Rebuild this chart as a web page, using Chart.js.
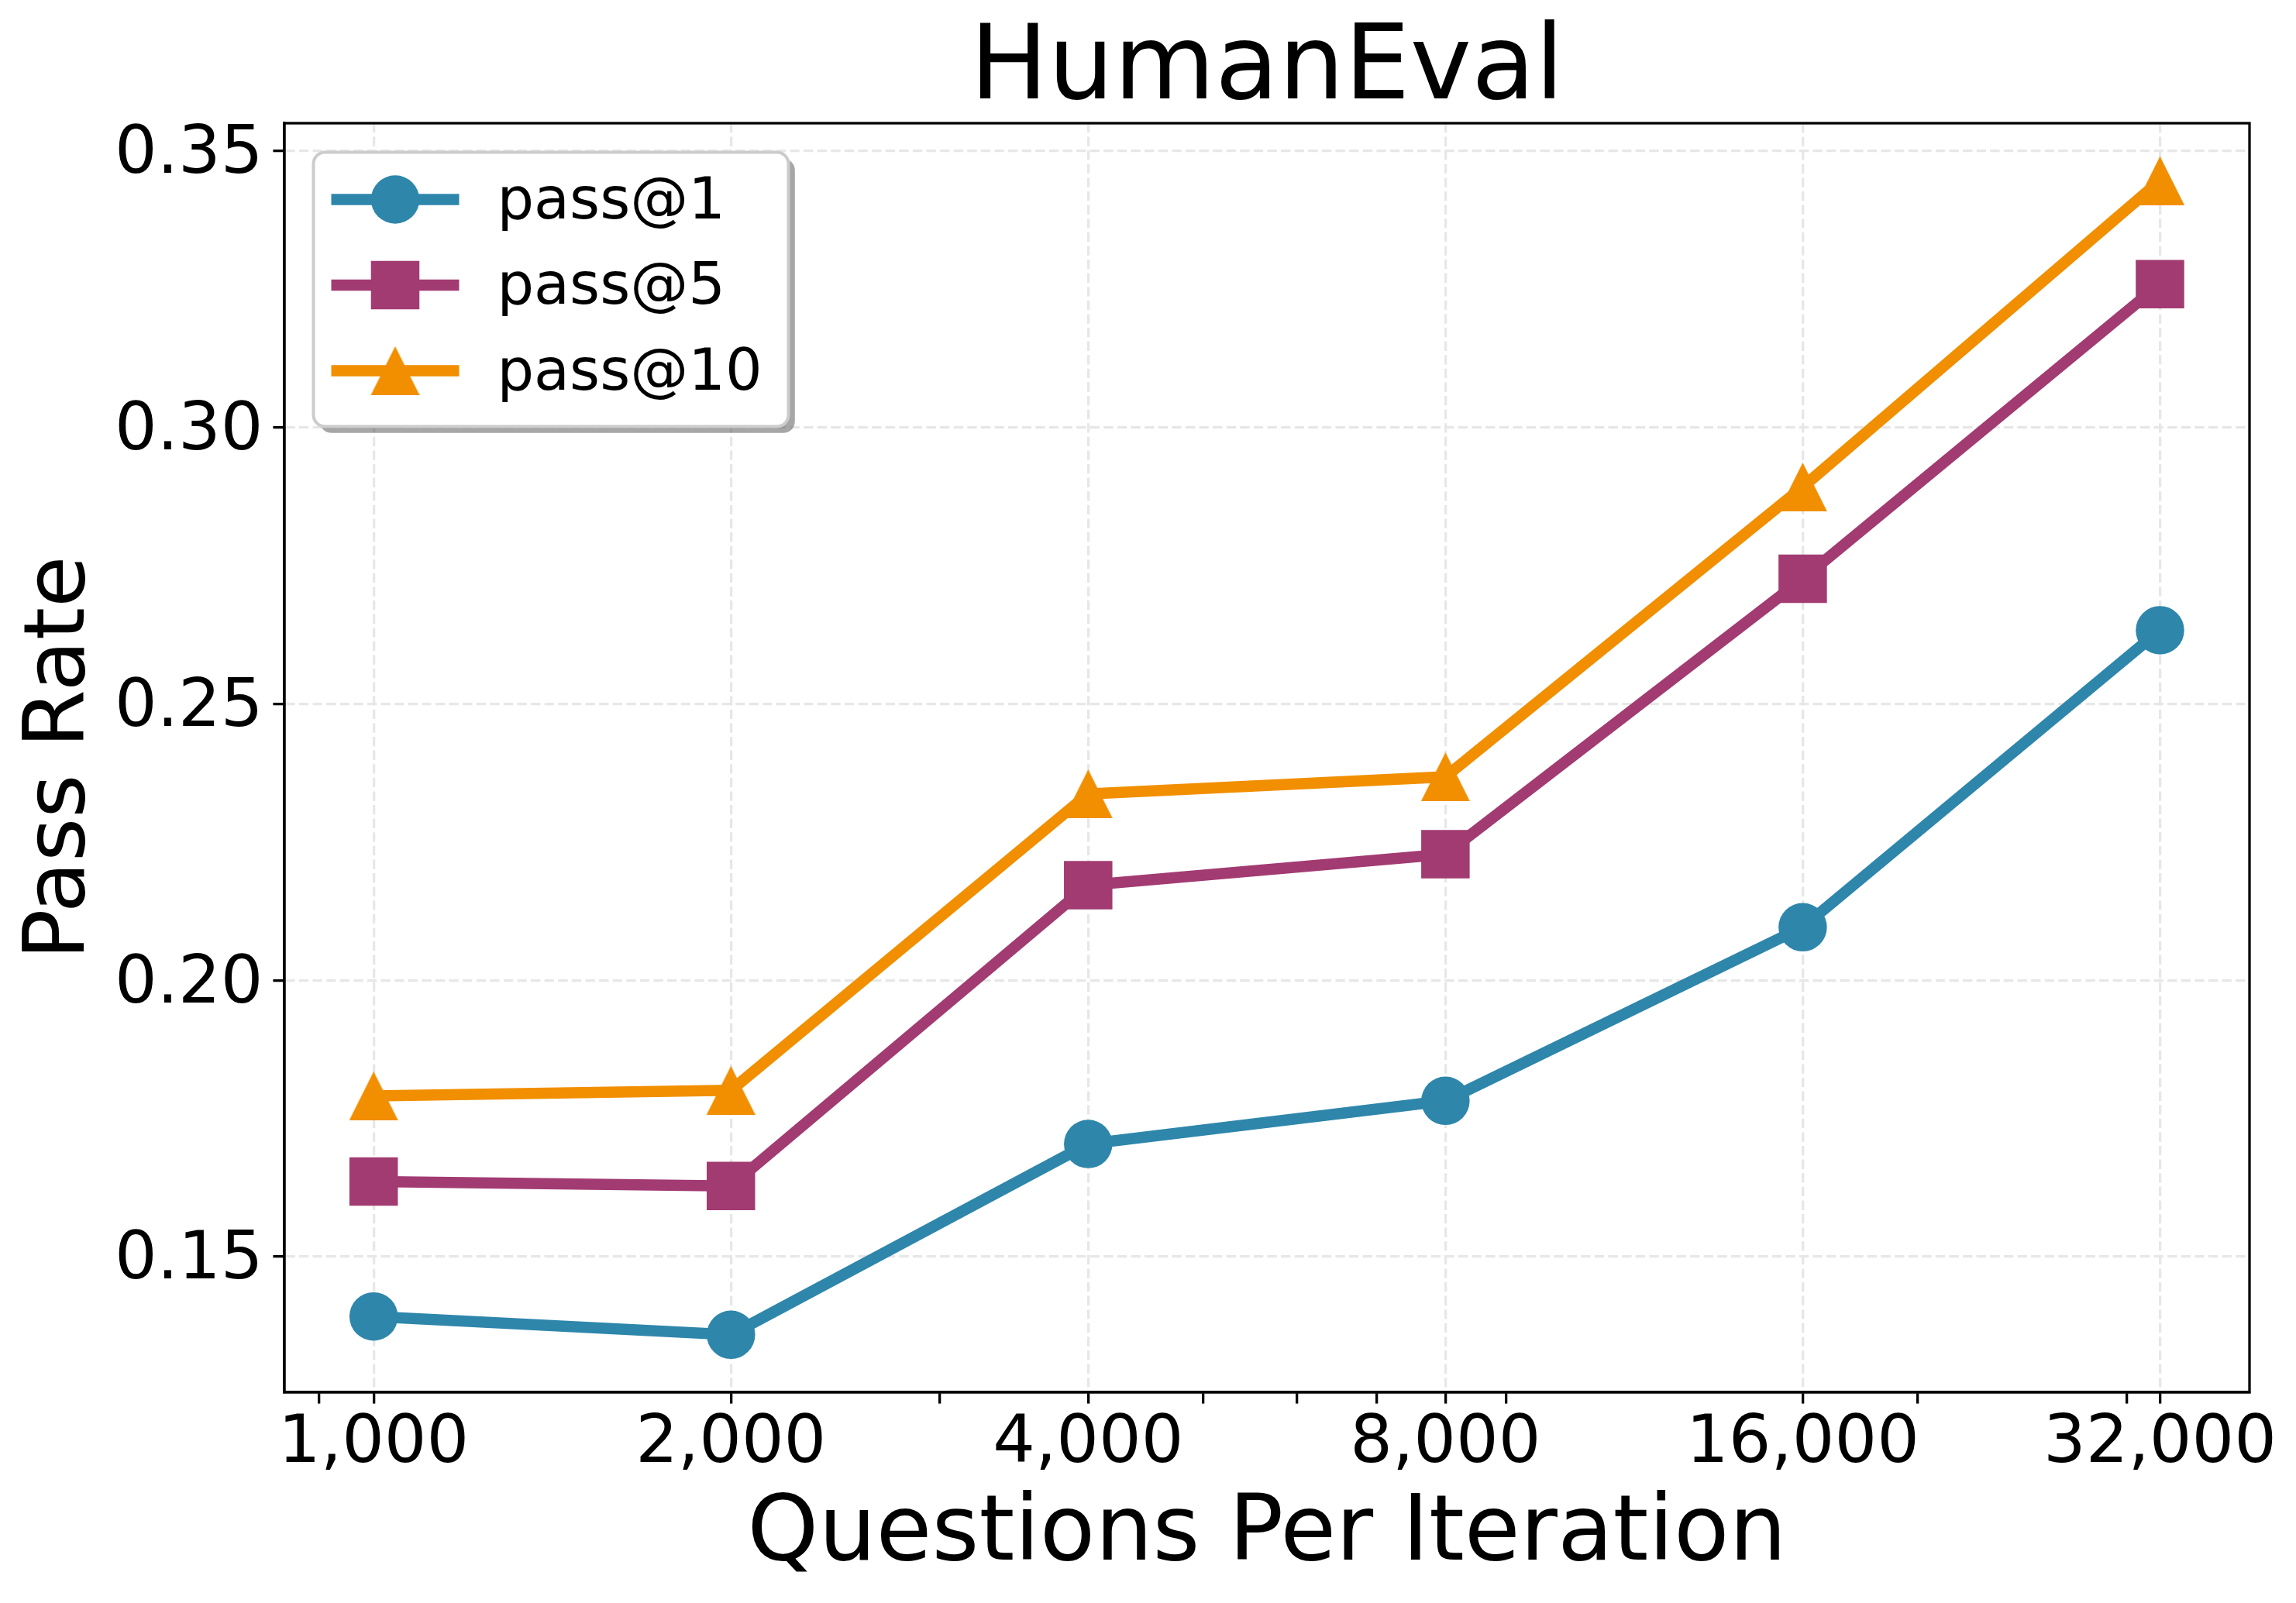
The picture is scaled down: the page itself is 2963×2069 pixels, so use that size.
<!DOCTYPE html>
<html>
<head>
<meta charset="utf-8">
<title>HumanEval</title>
<script src="https://cdn.jsdelivr.net/npm/chart.js@4.4.1/dist/chart.umd.min.js"></script>
<style>
  html, body { margin: 0; padding: 0; background: #fff; }
  canvas { display: block; }
</style>
</head>
<body>
<canvas id="chart" width="2963" height="2069"></canvas>
<script>
// questions per iteration (x axis, log scale)
const questions = [1000, 2000, 4000, 8000, 16000, 32000];
// pass rates
const pass1 = [0.1392, 0.1359, 0.1704, 0.1782, 0.2096, 0.2633];
const pass5 = [0.1636, 0.1628, 0.2172, 0.2228, 0.2726, 0.3259];
const pass10 = [0.1791, 0.1801, 0.2337, 0.2368, 0.2892, 0.3446];
// series names and colours
const seriesNames = ['pass@1', 'pass@5', 'pass@10'];
const seriesColors = ['#2E86AB', '#A23B72', '#F18F01'];
// ticks
const yTicks = [0.15, 0.20, 0.25, 0.30, 0.35];
const xMinorTicks = [900, 3000, 5000, 6000, 7000, 9000, 20000, 30000];

Chart.defaults.font.family = "'DejaVu Sans', sans-serif";
Chart.defaults.color = '#000';

// matplotlib style '^' marker (centred on its box, not its centroid)
function triangleMarker(size, color) {
	const c = document.createElement('canvas');
	c.width = size;
	c.height = size;
	const g = c.getContext('2d');
	g.fillStyle = color;
	g.beginPath();
	g.moveTo(size / 2, 0);
	g.lineTo(size, size);
	g.lineTo(0, size);
	g.closePath();
	g.fill();
	return c;
}

const markerStyles = ['circle', 'rect', triangleMarker(63, seriesColors[2])];
const markerRadius = [31.25, 44.2, 31.5];
const allSeries = [pass1, pass5, pass10];

const datasets = allSeries.map((vals, i) => ({
	label: seriesNames[i],
	data: questions.map((q, j) => ({ x: q, y: vals[j] })),
	borderColor: seriesColors[i],
	backgroundColor: seriesColors[i],
	pointBackgroundColor: seriesColors[i],
	borderWidth: 14.6,
	borderJoinStyle: 'round',
	pointStyle: markerStyles[i],
	pointRadius: markerRadius[i],
	pointBorderWidth: 0,
	tension: 0,
	order: seriesNames.length - i,
}));

// top and right spines
const frame = {
	id: 'frame',
	afterDatasetsDraw(chart) {
		const { ctx, chartArea: a } = chart;
		ctx.save();
		ctx.strokeStyle = '#000';
		ctx.lineWidth = 3.3;
		ctx.strokeRect(a.left, a.top, a.right - a.left, a.bottom - a.top);
		ctx.restore();
	},
};

// legend with line + marker handles, shadow and rounded frame
const legendBox = {
	id: 'legendBox',
	afterDraw(chart) {
		const { ctx, chartArea } = chart;
		const x = chartArea.left + 37.5;
		const y = chartArea.top + 37.5;
		const w = 613, h = 354, r = 15;
		ctx.save();
		ctx.fillStyle = 'rgba(77,77,77,0.5)';
		ctx.beginPath();
		ctx.roundRect(x + 8.3, y + 8.3, w, h, r);
		ctx.fill();
		ctx.fillStyle = '#fff';
		ctx.strokeStyle = '#cccccc';
		ctx.lineWidth = 4;
		ctx.beginPath();
		ctx.roundRect(x, y, w, h, r);
		ctx.fill();
		ctx.stroke();

		chart.data.datasets.forEach((ds, i) => {
			const rowY = y + 61 + i * 110.5;
			ctx.strokeStyle = ds.borderColor;
			ctx.lineWidth = ds.borderWidth;
			ctx.beginPath();
			ctx.moveTo(x + 23, rowY);
			ctx.lineTo(x + 188, rowY);
			ctx.stroke();
			ctx.fillStyle = ds.pointBackgroundColor;
			Chart.helpers.drawPoint(ctx, {
				pointStyle: ds.pointStyle,
				radius: ds.pointRadius,
				rotation: 0,
				borderWidth: 0,
			}, x + 105.5, rowY);
			ctx.fillStyle = '#000';
			ctx.font = "75px 'DejaVu Sans'";
			ctx.textAlign = 'left';
			ctx.textBaseline = 'middle';
			ctx.fillText(ds.label, x + 237, rowY + 5);
		});
		ctx.restore();
	},
};

const gridColor = '#e7e7e7';

new Chart(document.getElementById('chart'), {
	type: 'line',
	plugins: [frame, legendBox],
	data: { datasets: datasets },
	options: {
		responsive: false,
		devicePixelRatio: 1,
		animation: false,
		events: [],
		layout: { padding: { left: 0, right: 60, top: 0, bottom: 0 } },
		plugins: {
			legend: { display: false },
			tooltip: { enabled: false },
			title: {
				display: true,
				text: 'HumanEval',
				fullSize: false,
				color: '#000',
				font: { size: 134, weight: 'normal', lineHeight: 0.85 },
				padding: { top: 35.5, bottom: 9.6 },
			},
		},
		scales: {
			x: {
				type: 'logarithmic',
				min: 841,
				max: 38070,
				afterBuildTicks: (scale) => {
					scale.ticks = questions.map((v) => ({ value: v, major: true }))
						.concat(xMinorTicks.map((v) => ({ value: v, major: false })))
						.sort((a, b) => a.value - b.value);
				},
				afterFit: (scale) => { scale.height = 272; },
				ticks: {
					autoSkip: false,
					maxRotation: 0,
					minRotation: 0,
					padding: 10,
					color: '#000',
					font: { size: 86, lineHeight: 1 },
					callback: function (value, index, ticks) {
						return ticks[index].major ? Number(value).toLocaleString('en-US') : '';
					},
				},
				grid: {
					color: (c) => (c.tick && c.tick.major ? gridColor : 'rgba(0,0,0,0)'),
					lineWidth: 3.3,
					tickColor: '#000',
					tickWidth: 3.3,
					tickLength: 14.6,
					tickBorderDash: [],
				},
				border: { display: true, color: '#000', width: 3.3, dash: [12.3, 5.3] },
				title: {
					display: true,
					text: 'Questions Per Iteration',
					color: '#000',
					font: { size: 117, lineHeight: 1 },
					padding: { top: 0, bottom: 27.5 },
				},
			},
			y: {
				min: 0.1255,
				max: 0.355,
				afterBuildTicks: (scale) => {
					scale.ticks = yTicks.map((v) => ({ value: v }));
				},
				afterFit: (scale) => { scale.width = 367; },
				ticks: {
					padding: 13,
					labelOffset: 6,
					color: '#000',
					font: { size: 86 },
					callback: (v) => Number(v).toFixed(2),
				},
				grid: {
					color: gridColor,
					lineWidth: 3.3,
					tickColor: '#000',
					tickWidth: 3.3,
					tickLength: 14.6,
					tickBorderDash: [],
				},
				border: { display: true, color: '#000', width: 3.3, dash: [12.3, 5.3] },
				title: {
					display: true,
					text: 'Pass Rate',
					color: '#000',
					font: { size: 108, lineHeight: 1 },
					padding: { top: 25.5, bottom: 0 },
				},
			},
		},
	},
});
</script>
</body>
</html>
